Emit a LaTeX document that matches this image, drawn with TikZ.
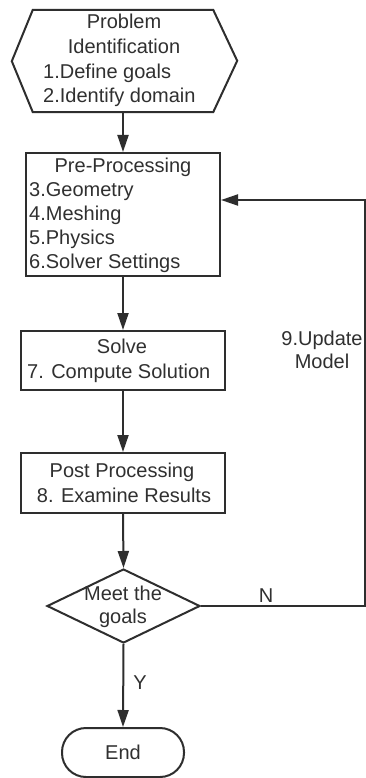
\documentclass[tikz,border=0pt]{standalone}
\usepackage{fontspec}
\setmainfont{Liberation Sans}
\usetikzlibrary{shapes.geometric,arrows.meta}
\definecolor{ln}{HTML}{2E2E2E}
\definecolor{tx}{HTML}{303030}
\begin{document}
\begin{tikzpicture}[x=1pt,y=-1pt,
  line/.style={draw=ln, line width=2pt},
  arr/.style={line, -{Triangle[length=17pt,width=11pt]}},
  boxs/.style={draw=ln, line width=2pt, rectangle, inner sep=0pt},
  ctxt/.style={font=\fontsize{20}{24}\selectfont, text=tx, anchor=base, inner sep=0pt},
  ltxt/.style={font=\fontsize{20}{24}\selectfont, text=tx, anchor=base west, inner sep=0pt}]
\useasboundingbox[fill=white] (0,0) rectangle (366,778);

% Problem identification (hexagon)
\node[inner sep=0pt, minimum width=180pt, minimum height=102pt] (prob) at (123,61) {};
\draw[line] (prob.north west) -- (prob.north east) -- ++(24,51) -- (prob.south east)
  -- (prob.south west) -- ++(-21,-51) -- cycle;
\node[ctxt] (p1) at (124,29) {Problem};
\node[ctxt] (p2) at (124,54) {Identification};
\node[ltxt] (p3) at (43,79) {1.Define goals};
\node[ltxt] (p4) at (43,103) {2.Identify domain};

% Pre-processing
\node[boxs, minimum width=194pt, minimum height=123pt] (pre) at (123,214.5) {};
\node[ctxt] (q1) at (123,172) {Pre-Processing};
\node[ltxt] (q2) at (29,196) {3.Geometry};
\node[ltxt] (q3) at (29,220) {4.Meshing};
\node[ltxt] (q4) at (29,244) {5.Physics};
\node[ltxt] (q5) at (29,268) {6.Solver Settings};

% Solve
\node[boxs, minimum width=204pt, minimum height=59pt] (solve) at (123,360.5) {};
\node[ctxt] (s1) at (122,353) {Solve};
\node[ltxt] (s2) at (27,378) {7. Compute Solution};

% Post processing
\node[boxs, minimum width=204pt, minimum height=60pt] (post) at (123,483) {};
\node[ctxt] (r1) at (122,477) {Post Processing};
\node[ctxt] (r2) at (124,502) {8. Examine Results};

% Decision
\node[diamond, draw=ln, line width=2pt, inner sep=0pt, minimum width=153pt, minimum height=74pt] (dec) at (123.5,606) {};
\node[ctxt] (d1) at (123,600) {Meet the};
\node[ctxt] (d2) at (123,623) {goals};

% End
\node[boxs, rounded corners=24pt, minimum width=122pt, minimum height=49pt,
  font=\fontsize{20}{24}\selectfont, text=tx] (end) at (123,752.5) {End};

% Connectors
\draw[arr] (prob.south) -- (pre.north);
\draw[arr] (pre.south) -- (solve.north);
\draw[arr] (solve.south) -- (post.north);
\draw[arr] (post.south) -- (dec.north);
\draw[arr] (dec.south) -- (end.north);
\coordinate (rc1) at (365,606);
\coordinate (rc2) at (365,200);
\draw[arr] (dec.east) -- (rc1) -- (rc2) -- (rc2 -| pre.east);

% Labels
\node[ctxt] (lY) at (140,689) {Y};
\node[ctxt] (lN) at (266,602) {N};
\node[ctxt] (u1) at (322,345) {9.Update};
\node[ctxt] (u2) at (322,368) {Model};
\end{tikzpicture}
\end{document}
